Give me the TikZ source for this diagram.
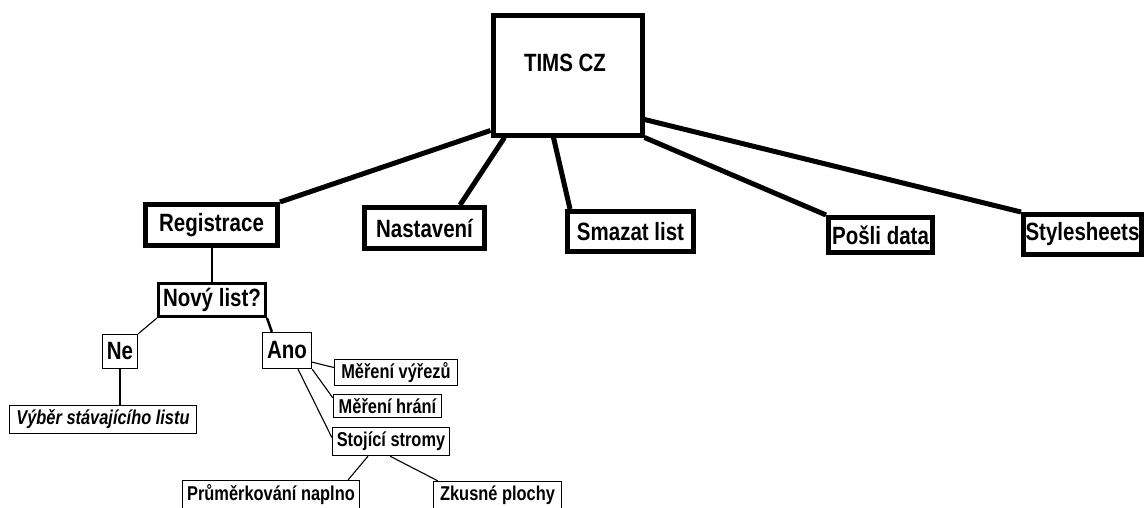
\documentclass[tikz,border=0pt]{standalone}
\usepackage{fontspec}
\setmainfont{Liberation Sans}[FakeStretch=0.82]
\begin{document}
\begin{tikzpicture}[x=1pt,y=-1pt,
  box/.style={draw, inner sep=0pt, align=center, fill=white, line join=miter},
  bigtext/.style={font=\fontsize{25}{30}\selectfont\bfseries},
  smalltext/.style={font=\fontsize{20}{24}\selectfont\bfseries},
  thickbox/.style={box, bigtext, line width=5pt},
  midbox/.style={box, bigtext, line width=3pt},
  thinbox/.style={box, bigtext, line width=1.3pt},
  leafbox/.style={box, smalltext, line width=1.3pt},
  thickline/.style={line width=5pt},
  midline/.style={line width=2.5pt},
  thinline/.style={line width=1.1pt}]
\useasboundingbox (0,0) rectangle (1144,507);
\clip (0,0) rectangle (1144,507);
% top level
\node[thickbox, minimum width=149, minimum height=120] (tims) at (567.5,75) {};
\node[bigtext, inner sep=0pt] (timslabel) at (565,63) {TIMS CZ};
\node[thickbox, minimum width=132, minimum height=41] (reg) at (211.5,225) {Registrace};
\node[thickbox, minimum width=120, minimum height=41] (nast) at (424.5,228) {Nastavení};
\node[thickbox, minimum width=126, minimum height=40] (smaz) at (630.5,231.5) {Smazat list};
\node[thickbox, minimum width=104, minimum height=35] (posli) at (880.5,235) {Pošli data};
\node[thickbox, minimum width=118, minimum height=40] (style) at (1082.5,234.5) {Stylesheets};
% second level
\node[midbox, minimum width=107, minimum height=33] (novy) at (212,300) {Nový list?};
\node[thinbox, minimum width=35, minimum height=34] (ne) at (120,351.5) {Ne};
\node[thinbox, minimum width=49, minimum height=36] (ano) at (287,350.5) {Ano};
\node[leafbox, minimum width=187, minimum height=28] (vyber) at (103,419.5) {\itshape Výběr stávajícího listu};
\node[leafbox, minimum width=123, minimum height=26] (mv) at (396,372.5) {Měření výřezů};
\node[leafbox, minimum width=108, minimum height=23] (mh) at (387.5,406) {Měření hrání};
\node[leafbox, minimum width=117, minimum height=28] (ss) at (391,441.5) {Stojící stromy};
\node[leafbox, minimum width=177, minimum height=28] (pn) at (271,494.5) {Průměrkování naplno};
\node[leafbox, minimum width=128, minimum height=28] (zp) at (497.5,495.5) {Zkusné plochy};
% connectors
\draw[thickline] ([yshift=7pt]tims.south west) -- (reg.north east);
\draw[thickline] ([xshift=14pt]tims.south west) -- ([xshift=35.5pt]nast.north);
\draw[thickline] ([xshift=63pt]tims.south west) -- ([xshift=5pt]smaz.north west);
\draw[thickline] (tims.south east) -- (posli.north west);
\draw[thickline] ([yshift=18pt]tims.south east) -- (style.north west);
\draw[midline] (reg.south -| novy.north) -- (novy.north);
\draw[thinline] (novy.south west) -- (ne.north east);
\draw[midline] (novy.south east) -- ([xshift=10pt]ano.north west);
\draw[thinline] (ne.south) -- (ne.south |- vyber.north);
\draw[thinline] ([yshift=7pt]ano.south east) -- ([yshift=5pt]mv.west);
\draw[thinline] (ano.south east) -- ([yshift=-4pt]mh.north west);
\draw[thinline] ([xshift=11pt]ano.south) -- ([yshift=4pt]ss.west);
\draw[thinline] ([xshift=-23pt]ss.south) -- ([xshift=-12pt]pn.north east);
\draw[thinline] ([xshift=-1pt]ss.south) -- ([xshift=5pt]zp.north west);
\end{tikzpicture}
\end{document}
